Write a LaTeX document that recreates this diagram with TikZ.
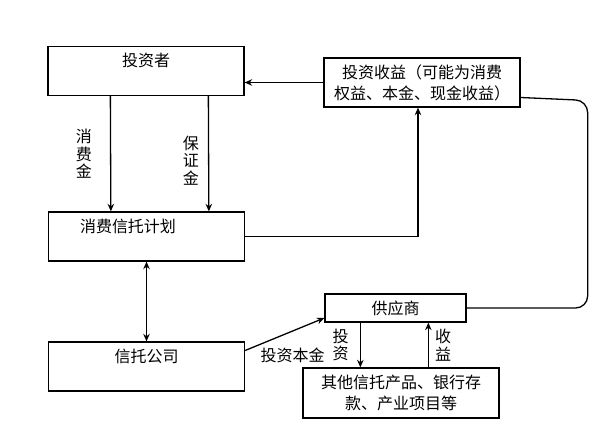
\documentclass[tikz,border=0pt]{standalone}
\usepackage{fontspec}
\setmainfont{Noto Sans CJK SC}
\usepackage{tikz}
\usetikzlibrary{arrows.meta,positioning}

\begin{document}
\begin{tikzpicture}[
  x=1pt,y=-1pt,
  box/.style={rectangle,draw=black,line width=1.3pt,minimum width=196pt,minimum height=49pt,
    font=\fontsize{16}{21}\selectfont,align=center},
  upper/.style={text height=12pt,text depth=20pt},
  lab/.style={font=\fontsize{16}{17.5}\selectfont,align=center,inner sep=0pt},
  arr/.style={-{Stealth[length=7.5pt,width=6.5pt]},line width=1.3pt},
  conn/.style={line width=1.3pt}
]
\useasboundingbox (0,0) rectangle (598,438);

\node[box,upper] (investor) at (146,71) {投资者};
\node[box,upper,text width=133pt,align=left] (plan) at (146.5,236.5) {消费信托计划};
\node[box,upper] (trust) at (146.5,366.5) {信托公司};
\node[box] (gain) at (422,82.5) {投资收益（可能为消费\\权益、本金、现金收益）};
\node[box,minimum width=141pt,minimum height=28pt] (supplier) at (395.5,308) {供应商};
\node[box,minimum height=50pt] (other) at (401,393) {其他信托产品、银行存\\款、产业项目等};

% investor -> plan
\draw[arr] ([xshift=63pt]investor.south west) -- node[lab,left=18pt]{消\\费\\金} ([xshift=63pt]plan.north west);
\draw[arr] ([xshift=161pt]investor.south west) -- node[lab,pos=.56,left=9pt]{保\\证\\金} ([xshift=161pt]plan.north west);
\draw[arr,{Stealth[length=7.5pt,width=6.5pt]}-{Stealth[length=7.5pt,width=6.5pt]}] (plan.south) -- (trust.north);

% returns
\draw[arr] (gain.west) -- (gain.west -| investor.east);
\draw[arr] (plan.east) -| ([xshift=-4pt]gain.south);
\draw[conn,rounded corners=12pt] ([yshift=-15pt]gain.east) -- ++(67,3) |- (supplier.east);

% funds
\draw[arr] ([yshift=16pt]trust.east) -- node[lab,pos=.6,below=16pt]{投资本金} ([yshift=-10pt]supplier.west);
\draw[arr] ([xshift=36pt]supplier.south west) -- node[lab,left=11pt]{投\\资} ([xshift=58pt]other.north west);
\draw[arr] ([xshift=126pt]other.north west) -- node[lab,right=6pt]{收\\益} ([xshift=104pt]supplier.south west);
\end{tikzpicture}
\end{document}
